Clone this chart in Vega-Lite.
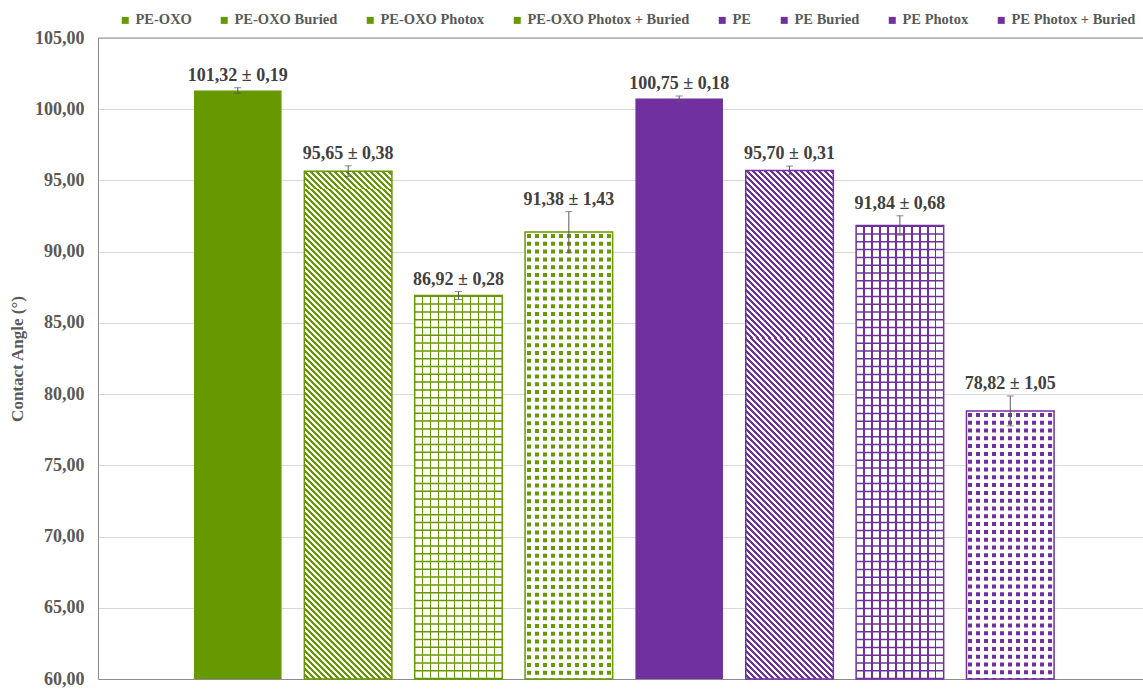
{
"$schema":"https://vega.github.io/schema/vega-lite/v6.json",
"width":1045,"height":641,
"autosize":{"type":"none"},
"padding":{"left":98,"top":38,"right":0,"bottom":10},
"background":"white",
"config":{"font":"Liberation Serif","view":{"stroke":null},
 "locale":{"number":{"decimal":",","thousands":".","grouping":[3],"currency":["","€"]}},
 "axisX":{"labels":false,"ticks":false,"grid":false,"domain":true,"domainColor":"#8c8c8c","zindex":1},
 "axisY":{"grid":true,"gridColor":"#d9d9d9","domain":true,"domainColor":"#8c8c8c","ticks":false,"tickCount":10,"format":".2f","labelExpr":"replace(format(datum.value, '.2f'), '.', ',')","labelPadding":14,"labelFont":"Liberation Serif","labelFontSize":18,"labelFontWeight":"bold","labelColor":"#595959","titleFont":"Liberation Serif","titleFontSize":17,"titleFontWeight":"bold","titleColor":"#595959","titlePadding":8}
},
"data":{"values":[
{"sample":"PE-OXO","material":"PE-OXO","treatment":"Control","mean":101.32,"sd":0.19,"low":101.13,"high":101.51,"label":"101,32 ± 0,19"},
{"sample":"PE-OXO Buried","material":"PE-OXO","treatment":"Buried","mean":95.65,"sd":0.38,"low":95.27,"high":96.03,"label":"95,65 ± 0,38"},
{"sample":"PE-OXO Photox","material":"PE-OXO","treatment":"Photox","mean":86.92,"sd":0.28,"low":86.64,"high":87.20,"label":"86,92 ± 0,28"},
{"sample":"PE-OXO Photox + Buried","material":"PE-OXO","treatment":"Photox + Buried","mean":91.38,"sd":1.43,"low":89.95,"high":92.81,"label":"91,38 ± 1,43"},
{"sample":"PE","material":"PE","treatment":"Control","mean":100.75,"sd":0.18,"low":100.57,"high":100.93,"label":"100,75 ± 0,18"},
{"sample":"PE Buried","material":"PE","treatment":"Buried","mean":95.70,"sd":0.31,"low":95.39,"high":96.01,"label":"95,70 ± 0,31"},
{"sample":"PE Photox","material":"PE","treatment":"Photox","mean":91.84,"sd":0.68,"low":91.16,"high":92.52,"label":"91,84 ± 0,68"},
{"sample":"PE Photox + Buried","material":"PE","treatment":"Photox + Buried","mean":78.82,"sd":1.05,"low":77.77,"high":79.87,"label":"78,82 ± 1,05"}
]},
"layer":[
{"mark":{"type":"bar"},
 "encoding":{
  "x":{"field":"sample","type":"nominal","sort":null,"title":null,"scale":{"domain":["PE-OXO","PE-OXO Buried","PE-OXO Photox","PE-OXO Photox + Buried","PE","PE Buried","PE Photox","PE Photox + Buried"],"paddingInner":0.2065,"paddingOuter":0.838,"align":0.519}},
  "y":{"field":"mean","type":"quantitative","title":"Contact Angle (°)","scale":{"domain":[60,105],"nice":false,"zero":false}},
  "y2":{"datum":60},
  "fill":{"condition":{"test":"indexof(datum.treatment, 'Photox') >= 0","value":"white"},"field":"sample","type":"nominal","scale":{"domain":["PE-OXO","PE-OXO Buried","PE-OXO Photox","PE-OXO Photox + Buried","PE","PE Buried","PE Photox","PE Photox + Buried"],"range":["#669900","#669900","#669900","#669900","#7030a0","#7030a0","#7030a0","#7030a0"]},
   "legend":{"orient":"none","legendX":20,"legendY":-25,"direction":"horizontal","title":null,"symbolType":"square","symbolSize":49,"symbolStrokeWidth":0,"labelFont":"Liberation Serif","labelFontSize":14.5,"labelFontWeight":"bold","labelColor":"#595959","labelLimit":400,"columnPadding":25,"labelOffset":3}}
 }},
{"transform":[{"filter":"datum.treatment == 'Buried'"}],
 "mark":{"type":"bar","fill":{"gradient":"linear","x1":-0.000494,"y1":1.002867,"x2":0.039023,"y2":0.773536,"stops":[
{"offset":0,"color":"#fff0"},
{"offset":0.0125,"color":"#fff0"},{"offset":0.0125,"color":"#fff"},{"offset":0.0375,"color":"#fff"},{"offset":0.0375,"color":"#fff0"},
{"offset":0.0625,"color":"#fff0"},{"offset":0.0625,"color":"#fff"},{"offset":0.0875,"color":"#fff"},{"offset":0.0875,"color":"#fff0"},
{"offset":0.1125,"color":"#fff0"},{"offset":0.1125,"color":"#fff"},{"offset":0.1375,"color":"#fff"},{"offset":0.1375,"color":"#fff0"},
{"offset":0.1625,"color":"#fff0"},{"offset":0.1625,"color":"#fff"},{"offset":0.1875,"color":"#fff"},{"offset":0.1875,"color":"#fff0"},
{"offset":0.2125,"color":"#fff0"},{"offset":0.2125,"color":"#fff"},{"offset":0.2375,"color":"#fff"},{"offset":0.2375,"color":"#fff0"},
{"offset":0.2625,"color":"#fff0"},{"offset":0.2625,"color":"#fff"},{"offset":0.2875,"color":"#fff"},{"offset":0.2875,"color":"#fff0"},
{"offset":0.3125,"color":"#fff0"},{"offset":0.3125,"color":"#fff"},{"offset":0.3375,"color":"#fff"},{"offset":0.3375,"color":"#fff0"},
{"offset":0.3625,"color":"#fff0"},{"offset":0.3625,"color":"#fff"},{"offset":0.3875,"color":"#fff"},{"offset":0.3875,"color":"#fff0"},
{"offset":0.4125,"color":"#fff0"},{"offset":0.4125,"color":"#fff"},{"offset":0.4375,"color":"#fff"},{"offset":0.4375,"color":"#fff0"},
{"offset":0.4625,"color":"#fff0"},{"offset":0.4625,"color":"#fff"},{"offset":0.4875,"color":"#fff"},{"offset":0.4875,"color":"#fff0"},
{"offset":0.5125,"color":"#fff0"},{"offset":0.5125,"color":"#fff"},{"offset":0.5375,"color":"#fff"},{"offset":0.5375,"color":"#fff0"},
{"offset":0.5625,"color":"#fff0"},{"offset":0.5625,"color":"#fff"},{"offset":0.5875,"color":"#fff"},{"offset":0.5875,"color":"#fff0"},
{"offset":0.6125,"color":"#fff0"},{"offset":0.6125,"color":"#fff"},{"offset":0.6375,"color":"#fff"},{"offset":0.6375,"color":"#fff0"},
{"offset":0.6625,"color":"#fff0"},{"offset":0.6625,"color":"#fff"},{"offset":0.6875,"color":"#fff"},{"offset":0.6875,"color":"#fff0"},
{"offset":0.7125,"color":"#fff0"},{"offset":0.7125,"color":"#fff"},{"offset":0.7375,"color":"#fff"},{"offset":0.7375,"color":"#fff0"},
{"offset":0.7625,"color":"#fff0"},{"offset":0.7625,"color":"#fff"},{"offset":0.7875,"color":"#fff"},{"offset":0.7875,"color":"#fff0"},
{"offset":0.8125,"color":"#fff0"},{"offset":0.8125,"color":"#fff"},{"offset":0.8375,"color":"#fff"},{"offset":0.8375,"color":"#fff0"},
{"offset":0.8625,"color":"#fff0"},{"offset":0.8625,"color":"#fff"},{"offset":0.8875,"color":"#fff"},{"offset":0.8875,"color":"#fff0"},
{"offset":0.9125,"color":"#fff0"},{"offset":0.9125,"color":"#fff"},{"offset":0.9375,"color":"#fff"},{"offset":0.9375,"color":"#fff0"},
{"offset":0.9625,"color":"#fff0"},{"offset":0.9625,"color":"#fff"},{"offset":0.9875,"color":"#fff"},{"offset":0.9875,"color":"#fff0"},
{"offset":1,"color":"#fff0"}
 ]}},
 "encoding":{
  "x":{"field":"sample","type":"nominal","sort":null,"title":null,"scale":{"domain":["PE-OXO","PE-OXO Buried","PE-OXO Photox","PE-OXO Photox + Buried","PE","PE Buried","PE Photox","PE Photox + Buried"],"paddingInner":0.2065,"paddingOuter":0.838,"align":0.519}},
  "y":{"field":"mean","type":"quantitative","title":"Contact Angle (°)","scale":{"domain":[60,105],"nice":false,"zero":false}},
  "y2":{"datum":60}
 }},
{"transform":[{"filter":"datum.treatment == 'Buried'"}],
 "mark":{"type":"bar","fill":{"gradient":"linear","x1":0.039023,"y1":0.773536,"x2":0.078540,"y2":0.544205,"stops":[
{"offset":0,"color":"#fff0"},
{"offset":0.0125,"color":"#fff0"},{"offset":0.0125,"color":"#fff"},{"offset":0.0375,"color":"#fff"},{"offset":0.0375,"color":"#fff0"},
{"offset":0.0625,"color":"#fff0"},{"offset":0.0625,"color":"#fff"},{"offset":0.0875,"color":"#fff"},{"offset":0.0875,"color":"#fff0"},
{"offset":0.1125,"color":"#fff0"},{"offset":0.1125,"color":"#fff"},{"offset":0.1375,"color":"#fff"},{"offset":0.1375,"color":"#fff0"},
{"offset":0.1625,"color":"#fff0"},{"offset":0.1625,"color":"#fff"},{"offset":0.1875,"color":"#fff"},{"offset":0.1875,"color":"#fff0"},
{"offset":0.2125,"color":"#fff0"},{"offset":0.2125,"color":"#fff"},{"offset":0.2375,"color":"#fff"},{"offset":0.2375,"color":"#fff0"},
{"offset":0.2625,"color":"#fff0"},{"offset":0.2625,"color":"#fff"},{"offset":0.2875,"color":"#fff"},{"offset":0.2875,"color":"#fff0"},
{"offset":0.3125,"color":"#fff0"},{"offset":0.3125,"color":"#fff"},{"offset":0.3375,"color":"#fff"},{"offset":0.3375,"color":"#fff0"},
{"offset":0.3625,"color":"#fff0"},{"offset":0.3625,"color":"#fff"},{"offset":0.3875,"color":"#fff"},{"offset":0.3875,"color":"#fff0"},
{"offset":0.4125,"color":"#fff0"},{"offset":0.4125,"color":"#fff"},{"offset":0.4375,"color":"#fff"},{"offset":0.4375,"color":"#fff0"},
{"offset":0.4625,"color":"#fff0"},{"offset":0.4625,"color":"#fff"},{"offset":0.4875,"color":"#fff"},{"offset":0.4875,"color":"#fff0"},
{"offset":0.5125,"color":"#fff0"},{"offset":0.5125,"color":"#fff"},{"offset":0.5375,"color":"#fff"},{"offset":0.5375,"color":"#fff0"},
{"offset":0.5625,"color":"#fff0"},{"offset":0.5625,"color":"#fff"},{"offset":0.5875,"color":"#fff"},{"offset":0.5875,"color":"#fff0"},
{"offset":0.6125,"color":"#fff0"},{"offset":0.6125,"color":"#fff"},{"offset":0.6375,"color":"#fff"},{"offset":0.6375,"color":"#fff0"},
{"offset":0.6625,"color":"#fff0"},{"offset":0.6625,"color":"#fff"},{"offset":0.6875,"color":"#fff"},{"offset":0.6875,"color":"#fff0"},
{"offset":0.7125,"color":"#fff0"},{"offset":0.7125,"color":"#fff"},{"offset":0.7375,"color":"#fff"},{"offset":0.7375,"color":"#fff0"},
{"offset":0.7625,"color":"#fff0"},{"offset":0.7625,"color":"#fff"},{"offset":0.7875,"color":"#fff"},{"offset":0.7875,"color":"#fff0"},
{"offset":0.8125,"color":"#fff0"},{"offset":0.8125,"color":"#fff"},{"offset":0.8375,"color":"#fff"},{"offset":0.8375,"color":"#fff0"},
{"offset":0.8625,"color":"#fff0"},{"offset":0.8625,"color":"#fff"},{"offset":0.8875,"color":"#fff"},{"offset":0.8875,"color":"#fff0"},
{"offset":0.9125,"color":"#fff0"},{"offset":0.9125,"color":"#fff"},{"offset":0.9375,"color":"#fff"},{"offset":0.9375,"color":"#fff0"},
{"offset":0.9625,"color":"#fff0"},{"offset":0.9625,"color":"#fff"},{"offset":0.9875,"color":"#fff"},{"offset":0.9875,"color":"#fff0"},
{"offset":1,"color":"#fff0"}
 ]}},
 "encoding":{
  "x":{"field":"sample","type":"nominal","sort":null,"title":null,"scale":{"domain":["PE-OXO","PE-OXO Buried","PE-OXO Photox","PE-OXO Photox + Buried","PE","PE Buried","PE Photox","PE Photox + Buried"],"paddingInner":0.2065,"paddingOuter":0.838,"align":0.519}},
  "y":{"field":"mean","type":"quantitative","title":"Contact Angle (°)","scale":{"domain":[60,105],"nice":false,"zero":false}},
  "y2":{"datum":60}
 }},
{"transform":[{"filter":"datum.treatment == 'Buried'"}],
 "mark":{"type":"bar","fill":{"gradient":"linear","x1":0.078540,"y1":0.544205,"x2":0.118058,"y2":0.314874,"stops":[
{"offset":0,"color":"#fff0"},
{"offset":0.0125,"color":"#fff0"},{"offset":0.0125,"color":"#fff"},{"offset":0.0375,"color":"#fff"},{"offset":0.0375,"color":"#fff0"},
{"offset":0.0625,"color":"#fff0"},{"offset":0.0625,"color":"#fff"},{"offset":0.0875,"color":"#fff"},{"offset":0.0875,"color":"#fff0"},
{"offset":0.1125,"color":"#fff0"},{"offset":0.1125,"color":"#fff"},{"offset":0.1375,"color":"#fff"},{"offset":0.1375,"color":"#fff0"},
{"offset":0.1625,"color":"#fff0"},{"offset":0.1625,"color":"#fff"},{"offset":0.1875,"color":"#fff"},{"offset":0.1875,"color":"#fff0"},
{"offset":0.2125,"color":"#fff0"},{"offset":0.2125,"color":"#fff"},{"offset":0.2375,"color":"#fff"},{"offset":0.2375,"color":"#fff0"},
{"offset":0.2625,"color":"#fff0"},{"offset":0.2625,"color":"#fff"},{"offset":0.2875,"color":"#fff"},{"offset":0.2875,"color":"#fff0"},
{"offset":0.3125,"color":"#fff0"},{"offset":0.3125,"color":"#fff"},{"offset":0.3375,"color":"#fff"},{"offset":0.3375,"color":"#fff0"},
{"offset":0.3625,"color":"#fff0"},{"offset":0.3625,"color":"#fff"},{"offset":0.3875,"color":"#fff"},{"offset":0.3875,"color":"#fff0"},
{"offset":0.4125,"color":"#fff0"},{"offset":0.4125,"color":"#fff"},{"offset":0.4375,"color":"#fff"},{"offset":0.4375,"color":"#fff0"},
{"offset":0.4625,"color":"#fff0"},{"offset":0.4625,"color":"#fff"},{"offset":0.4875,"color":"#fff"},{"offset":0.4875,"color":"#fff0"},
{"offset":0.5125,"color":"#fff0"},{"offset":0.5125,"color":"#fff"},{"offset":0.5375,"color":"#fff"},{"offset":0.5375,"color":"#fff0"},
{"offset":0.5625,"color":"#fff0"},{"offset":0.5625,"color":"#fff"},{"offset":0.5875,"color":"#fff"},{"offset":0.5875,"color":"#fff0"},
{"offset":0.6125,"color":"#fff0"},{"offset":0.6125,"color":"#fff"},{"offset":0.6375,"color":"#fff"},{"offset":0.6375,"color":"#fff0"},
{"offset":0.6625,"color":"#fff0"},{"offset":0.6625,"color":"#fff"},{"offset":0.6875,"color":"#fff"},{"offset":0.6875,"color":"#fff0"},
{"offset":0.7125,"color":"#fff0"},{"offset":0.7125,"color":"#fff"},{"offset":0.7375,"color":"#fff"},{"offset":0.7375,"color":"#fff0"},
{"offset":0.7625,"color":"#fff0"},{"offset":0.7625,"color":"#fff"},{"offset":0.7875,"color":"#fff"},{"offset":0.7875,"color":"#fff0"},
{"offset":0.8125,"color":"#fff0"},{"offset":0.8125,"color":"#fff"},{"offset":0.8375,"color":"#fff"},{"offset":0.8375,"color":"#fff0"},
{"offset":0.8625,"color":"#fff0"},{"offset":0.8625,"color":"#fff"},{"offset":0.8875,"color":"#fff"},{"offset":0.8875,"color":"#fff0"},
{"offset":0.9125,"color":"#fff0"},{"offset":0.9125,"color":"#fff"},{"offset":0.9375,"color":"#fff"},{"offset":0.9375,"color":"#fff0"},
{"offset":0.9625,"color":"#fff0"},{"offset":0.9625,"color":"#fff"},{"offset":0.9875,"color":"#fff"},{"offset":0.9875,"color":"#fff0"},
{"offset":1,"color":"#fff0"}
 ]}},
 "encoding":{
  "x":{"field":"sample","type":"nominal","sort":null,"title":null,"scale":{"domain":["PE-OXO","PE-OXO Buried","PE-OXO Photox","PE-OXO Photox + Buried","PE","PE Buried","PE Photox","PE Photox + Buried"],"paddingInner":0.2065,"paddingOuter":0.838,"align":0.519}},
  "y":{"field":"mean","type":"quantitative","title":"Contact Angle (°)","scale":{"domain":[60,105],"nice":false,"zero":false}},
  "y2":{"datum":60}
 }},
{"transform":[{"filter":"datum.treatment == 'Buried'"}],
 "mark":{"type":"bar","fill":{"gradient":"linear","x1":0.118058,"y1":0.314874,"x2":0.157575,"y2":0.085543,"stops":[
{"offset":0,"color":"#fff0"},
{"offset":0.0125,"color":"#fff0"},{"offset":0.0125,"color":"#fff"},{"offset":0.0375,"color":"#fff"},{"offset":0.0375,"color":"#fff0"},
{"offset":0.0625,"color":"#fff0"},{"offset":0.0625,"color":"#fff"},{"offset":0.0875,"color":"#fff"},{"offset":0.0875,"color":"#fff0"},
{"offset":0.1125,"color":"#fff0"},{"offset":0.1125,"color":"#fff"},{"offset":0.1375,"color":"#fff"},{"offset":0.1375,"color":"#fff0"},
{"offset":0.1625,"color":"#fff0"},{"offset":0.1625,"color":"#fff"},{"offset":0.1875,"color":"#fff"},{"offset":0.1875,"color":"#fff0"},
{"offset":0.2125,"color":"#fff0"},{"offset":0.2125,"color":"#fff"},{"offset":0.2375,"color":"#fff"},{"offset":0.2375,"color":"#fff0"},
{"offset":0.2625,"color":"#fff0"},{"offset":0.2625,"color":"#fff"},{"offset":0.2875,"color":"#fff"},{"offset":0.2875,"color":"#fff0"},
{"offset":0.3125,"color":"#fff0"},{"offset":0.3125,"color":"#fff"},{"offset":0.3375,"color":"#fff"},{"offset":0.3375,"color":"#fff0"},
{"offset":0.3625,"color":"#fff0"},{"offset":0.3625,"color":"#fff"},{"offset":0.3875,"color":"#fff"},{"offset":0.3875,"color":"#fff0"},
{"offset":0.4125,"color":"#fff0"},{"offset":0.4125,"color":"#fff"},{"offset":0.4375,"color":"#fff"},{"offset":0.4375,"color":"#fff0"},
{"offset":0.4625,"color":"#fff0"},{"offset":0.4625,"color":"#fff"},{"offset":0.4875,"color":"#fff"},{"offset":0.4875,"color":"#fff0"},
{"offset":0.5125,"color":"#fff0"},{"offset":0.5125,"color":"#fff"},{"offset":0.5375,"color":"#fff"},{"offset":0.5375,"color":"#fff0"},
{"offset":0.5625,"color":"#fff0"},{"offset":0.5625,"color":"#fff"},{"offset":0.5875,"color":"#fff"},{"offset":0.5875,"color":"#fff0"},
{"offset":0.6125,"color":"#fff0"},{"offset":0.6125,"color":"#fff"},{"offset":0.6375,"color":"#fff"},{"offset":0.6375,"color":"#fff0"},
{"offset":0.6625,"color":"#fff0"},{"offset":0.6625,"color":"#fff"},{"offset":0.6875,"color":"#fff"},{"offset":0.6875,"color":"#fff0"},
{"offset":0.7125,"color":"#fff0"},{"offset":0.7125,"color":"#fff"},{"offset":0.7375,"color":"#fff"},{"offset":0.7375,"color":"#fff0"},
{"offset":0.7625,"color":"#fff0"},{"offset":0.7625,"color":"#fff"},{"offset":0.7875,"color":"#fff"},{"offset":0.7875,"color":"#fff0"},
{"offset":0.8125,"color":"#fff0"},{"offset":0.8125,"color":"#fff"},{"offset":0.8375,"color":"#fff"},{"offset":0.8375,"color":"#fff0"},
{"offset":0.8625,"color":"#fff0"},{"offset":0.8625,"color":"#fff"},{"offset":0.8875,"color":"#fff"},{"offset":0.8875,"color":"#fff0"},
{"offset":0.9125,"color":"#fff0"},{"offset":0.9125,"color":"#fff"},{"offset":0.9375,"color":"#fff"},{"offset":0.9375,"color":"#fff0"},
{"offset":0.9625,"color":"#fff0"},{"offset":0.9625,"color":"#fff"},{"offset":0.9875,"color":"#fff"},{"offset":0.9875,"color":"#fff0"},
{"offset":1,"color":"#fff0"}
 ]}},
 "encoding":{
  "x":{"field":"sample","type":"nominal","sort":null,"title":null,"scale":{"domain":["PE-OXO","PE-OXO Buried","PE-OXO Photox","PE-OXO Photox + Buried","PE","PE Buried","PE Photox","PE Photox + Buried"],"paddingInner":0.2065,"paddingOuter":0.838,"align":0.519}},
  "y":{"field":"mean","type":"quantitative","title":"Contact Angle (°)","scale":{"domain":[60,105],"nice":false,"zero":false}},
  "y2":{"datum":60}
 }},
{"transform":[{"filter":"datum.treatment == 'Buried'"}],
 "mark":{"type":"bar","fill":{"gradient":"linear","x1":0.157575,"y1":0.085543,"x2":0.197092,"y2":-0.143787,"stops":[
{"offset":0,"color":"#fff0"},
{"offset":0.0125,"color":"#fff0"},{"offset":0.0125,"color":"#fff"},{"offset":0.0375,"color":"#fff"},{"offset":0.0375,"color":"#fff0"},
{"offset":0.0625,"color":"#fff0"},{"offset":0.0625,"color":"#fff"},{"offset":0.0875,"color":"#fff"},{"offset":0.0875,"color":"#fff0"},
{"offset":0.1125,"color":"#fff0"},{"offset":0.1125,"color":"#fff"},{"offset":0.1375,"color":"#fff"},{"offset":0.1375,"color":"#fff0"},
{"offset":0.1625,"color":"#fff0"},{"offset":0.1625,"color":"#fff"},{"offset":0.1875,"color":"#fff"},{"offset":0.1875,"color":"#fff0"},
{"offset":0.2125,"color":"#fff0"},{"offset":0.2125,"color":"#fff"},{"offset":0.2375,"color":"#fff"},{"offset":0.2375,"color":"#fff0"},
{"offset":0.2625,"color":"#fff0"},{"offset":0.2625,"color":"#fff"},{"offset":0.2875,"color":"#fff"},{"offset":0.2875,"color":"#fff0"},
{"offset":0.3125,"color":"#fff0"},{"offset":0.3125,"color":"#fff"},{"offset":0.3375,"color":"#fff"},{"offset":0.3375,"color":"#fff0"},
{"offset":0.3625,"color":"#fff0"},{"offset":0.3625,"color":"#fff"},{"offset":0.3875,"color":"#fff"},{"offset":0.3875,"color":"#fff0"},
{"offset":0.4125,"color":"#fff0"},{"offset":0.4125,"color":"#fff"},{"offset":0.4375,"color":"#fff"},{"offset":0.4375,"color":"#fff0"},
{"offset":0.4625,"color":"#fff0"},{"offset":0.4625,"color":"#fff"},{"offset":0.4875,"color":"#fff"},{"offset":0.4875,"color":"#fff0"},
{"offset":0.5125,"color":"#fff0"},{"offset":0.5125,"color":"#fff"},{"offset":0.5375,"color":"#fff"},{"offset":0.5375,"color":"#fff0"},
{"offset":0.5625,"color":"#fff0"},{"offset":0.5625,"color":"#fff"},{"offset":0.5875,"color":"#fff"},{"offset":0.5875,"color":"#fff0"},
{"offset":0.6125,"color":"#fff0"},{"offset":0.6125,"color":"#fff"},{"offset":0.6375,"color":"#fff"},{"offset":0.6375,"color":"#fff0"},
{"offset":0.6625,"color":"#fff0"},{"offset":0.6625,"color":"#fff"},{"offset":0.6875,"color":"#fff"},{"offset":0.6875,"color":"#fff0"},
{"offset":0.7125,"color":"#fff0"},{"offset":0.7125,"color":"#fff"},{"offset":0.7375,"color":"#fff"},{"offset":0.7375,"color":"#fff0"},
{"offset":0.7625,"color":"#fff0"},{"offset":0.7625,"color":"#fff"},{"offset":0.7875,"color":"#fff"},{"offset":0.7875,"color":"#fff0"},
{"offset":0.8125,"color":"#fff0"},{"offset":0.8125,"color":"#fff"},{"offset":0.8375,"color":"#fff"},{"offset":0.8375,"color":"#fff0"},
{"offset":0.8625,"color":"#fff0"},{"offset":0.8625,"color":"#fff"},{"offset":0.8875,"color":"#fff"},{"offset":0.8875,"color":"#fff0"},
{"offset":0.9125,"color":"#fff0"},{"offset":0.9125,"color":"#fff"},{"offset":0.9375,"color":"#fff"},{"offset":0.9375,"color":"#fff0"},
{"offset":0.9625,"color":"#fff0"},{"offset":0.9625,"color":"#fff"},{"offset":0.9875,"color":"#fff"},{"offset":0.9875,"color":"#fff0"},
{"offset":1,"color":"#fff0"}
 ]}},
 "encoding":{
  "x":{"field":"sample","type":"nominal","sort":null,"title":null,"scale":{"domain":["PE-OXO","PE-OXO Buried","PE-OXO Photox","PE-OXO Photox + Buried","PE","PE Buried","PE Photox","PE Photox + Buried"],"paddingInner":0.2065,"paddingOuter":0.838,"align":0.519}},
  "y":{"field":"mean","type":"quantitative","title":"Contact Angle (°)","scale":{"domain":[60,105],"nice":false,"zero":false}},
  "y2":{"datum":60}
 }},
{"transform":[{"filter":"datum.treatment == 'Photox'"}],
 "mark":{"type":"rule","strokeWidth":87.4,"strokeDash":[1.5,6.3],"strokeCap":"butt"},
 "encoding":{
  "x":{"field":"sample","type":"nominal","sort":null,"title":null,"scale":{"domain":["PE-OXO","PE-OXO Buried","PE-OXO Photox","PE-OXO Photox + Buried","PE","PE Buried","PE Photox","PE Photox + Buried"],"paddingInner":0.2065,"paddingOuter":0.838,"align":0.519}},
  "y":{"field":"mean","type":"quantitative","title":"Contact Angle (°)","scale":{"domain":[60,105],"nice":false,"zero":false}},
  "y2":{"datum":60},
  "stroke":{"field":"sample","type":"nominal","scale":{"domain":["PE-OXO","PE-OXO Buried","PE-OXO Photox","PE-OXO Photox + Buried","PE","PE Buried","PE Photox","PE Photox + Buried"],"range":["#669900","#669900","#669900","#669900","#7030a0","#7030a0","#7030a0","#7030a0"]},"legend":null}
 }},
{"transform":[{"filter":"datum.treatment == 'Photox + Buried'"}],
 "mark":{"type":"rule","strokeWidth":87.4,"strokeDash":[4,3.8],"strokeDashOffset":5.8,"strokeCap":"butt"},
 "encoding":{
  "x":{"field":"sample","type":"nominal","sort":null,"title":null,"scale":{"domain":["PE-OXO","PE-OXO Buried","PE-OXO Photox","PE-OXO Photox + Buried","PE","PE Buried","PE Photox","PE Photox + Buried"],"paddingInner":0.2065,"paddingOuter":0.838,"align":0.519}},
  "y":{"field":"mean","type":"quantitative","title":"Contact Angle (°)","scale":{"domain":[60,105],"nice":false,"zero":false}},
  "y2":{"datum":60},
  "stroke":{"field":"sample","type":"nominal","scale":{"domain":["PE-OXO","PE-OXO Buried","PE-OXO Photox","PE-OXO Photox + Buried","PE","PE Buried","PE Photox","PE Photox + Buried"],"range":["#669900","#669900","#669900","#669900","#7030a0","#7030a0","#7030a0","#7030a0"]},"legend":null}
 }},
{"transform":[{"filter":"datum.sample == 'PE-OXO Photox'"}],
 "mark":{"type":"bar","fill":{"gradient":"linear","x1":0,"y1":0,"x2":1,"y2":0,"stops":[
{"offset":0,"color":"#fff0"},
{"offset":0.0823,"color":"#fff0"},{"offset":0.0823,"color":"#669900"},{"offset":0.0995,"color":"#669900"},{"offset":0.0995,"color":"#fff0"},
{"offset":0.1732,"color":"#fff0"},{"offset":0.1732,"color":"#669900"},{"offset":0.1904,"color":"#669900"},{"offset":0.1904,"color":"#fff0"},
{"offset":0.2641,"color":"#fff0"},{"offset":0.2641,"color":"#669900"},{"offset":0.2813,"color":"#669900"},{"offset":0.2813,"color":"#fff0"},
{"offset":0.3550,"color":"#fff0"},{"offset":0.3550,"color":"#669900"},{"offset":0.3722,"color":"#669900"},{"offset":0.3722,"color":"#fff0"},
{"offset":0.4459,"color":"#fff0"},{"offset":0.4459,"color":"#669900"},{"offset":0.4631,"color":"#669900"},{"offset":0.4631,"color":"#fff0"},
{"offset":0.5369,"color":"#fff0"},{"offset":0.5369,"color":"#669900"},{"offset":0.5541,"color":"#669900"},{"offset":0.5541,"color":"#fff0"},
{"offset":0.6278,"color":"#fff0"},{"offset":0.6278,"color":"#669900"},{"offset":0.6450,"color":"#669900"},{"offset":0.6450,"color":"#fff0"},
{"offset":0.7187,"color":"#fff0"},{"offset":0.7187,"color":"#669900"},{"offset":0.7359,"color":"#669900"},{"offset":0.7359,"color":"#fff0"},
{"offset":0.8096,"color":"#fff0"},{"offset":0.8096,"color":"#669900"},{"offset":0.8268,"color":"#669900"},{"offset":0.8268,"color":"#fff0"},
{"offset":0.9005,"color":"#fff0"},{"offset":0.9005,"color":"#669900"},{"offset":0.9177,"color":"#669900"},{"offset":0.9177,"color":"#fff0"},
{"offset":1,"color":"#fff0"}
 ]}},
 "encoding":{
  "x":{"field":"sample","type":"nominal","sort":null,"title":null,"scale":{"domain":["PE-OXO","PE-OXO Buried","PE-OXO Photox","PE-OXO Photox + Buried","PE","PE Buried","PE Photox","PE Photox + Buried"],"paddingInner":0.2065,"paddingOuter":0.838,"align":0.519}},
  "y":{"field":"mean","type":"quantitative","title":"Contact Angle (°)","scale":{"domain":[60,105],"nice":false,"zero":false}},
  "y2":{"datum":60}
 }},
{"transform":[{"filter":"datum.sample == 'PE Photox'"}],
 "mark":{"type":"bar","fill":{"gradient":"linear","x1":0,"y1":0,"x2":1,"y2":0,"stops":[
{"offset":0,"color":"#fff0"},
{"offset":0.0823,"color":"#fff0"},{"offset":0.0823,"color":"#7030a0"},{"offset":0.0995,"color":"#7030a0"},{"offset":0.0995,"color":"#fff0"},
{"offset":0.1732,"color":"#fff0"},{"offset":0.1732,"color":"#7030a0"},{"offset":0.1904,"color":"#7030a0"},{"offset":0.1904,"color":"#fff0"},
{"offset":0.2641,"color":"#fff0"},{"offset":0.2641,"color":"#7030a0"},{"offset":0.2813,"color":"#7030a0"},{"offset":0.2813,"color":"#fff0"},
{"offset":0.3550,"color":"#fff0"},{"offset":0.3550,"color":"#7030a0"},{"offset":0.3722,"color":"#7030a0"},{"offset":0.3722,"color":"#fff0"},
{"offset":0.4459,"color":"#fff0"},{"offset":0.4459,"color":"#7030a0"},{"offset":0.4631,"color":"#7030a0"},{"offset":0.4631,"color":"#fff0"},
{"offset":0.5369,"color":"#fff0"},{"offset":0.5369,"color":"#7030a0"},{"offset":0.5541,"color":"#7030a0"},{"offset":0.5541,"color":"#fff0"},
{"offset":0.6278,"color":"#fff0"},{"offset":0.6278,"color":"#7030a0"},{"offset":0.6450,"color":"#7030a0"},{"offset":0.6450,"color":"#fff0"},
{"offset":0.7187,"color":"#fff0"},{"offset":0.7187,"color":"#7030a0"},{"offset":0.7359,"color":"#7030a0"},{"offset":0.7359,"color":"#fff0"},
{"offset":0.8096,"color":"#fff0"},{"offset":0.8096,"color":"#7030a0"},{"offset":0.8268,"color":"#7030a0"},{"offset":0.8268,"color":"#fff0"},
{"offset":0.9005,"color":"#fff0"},{"offset":0.9005,"color":"#7030a0"},{"offset":0.9177,"color":"#7030a0"},{"offset":0.9177,"color":"#fff0"},
{"offset":1,"color":"#fff0"}
 ]}},
 "encoding":{
  "x":{"field":"sample","type":"nominal","sort":null,"title":null,"scale":{"domain":["PE-OXO","PE-OXO Buried","PE-OXO Photox","PE-OXO Photox + Buried","PE","PE Buried","PE Photox","PE Photox + Buried"],"paddingInner":0.2065,"paddingOuter":0.838,"align":0.519}},
  "y":{"field":"mean","type":"quantitative","title":"Contact Angle (°)","scale":{"domain":[60,105],"nice":false,"zero":false}},
  "y2":{"datum":60}
 }},
{"transform":[{"filter":"datum.treatment == 'Photox + Buried'"}],
 "mark":{"type":"bar","fill":{"gradient":"linear","x1":0,"y1":0,"x2":1,"y2":0,"stops":[
{"offset":0,"color":"#fff"},{"offset":0.0227,"color":"#fff"},{"offset":0.0227,"color":"#fff0"},{"offset":0.0683,"color":"#fff0"},
{"offset":0.0683,"color":"#fff"},{"offset":0.1136,"color":"#fff"},{"offset":0.1136,"color":"#fff0"},{"offset":0.1592,"color":"#fff0"},
{"offset":0.1592,"color":"#fff"},{"offset":0.2045,"color":"#fff"},{"offset":0.2045,"color":"#fff0"},{"offset":0.2501,"color":"#fff0"},
{"offset":0.2501,"color":"#fff"},{"offset":0.2954,"color":"#fff"},{"offset":0.2954,"color":"#fff0"},{"offset":0.3410,"color":"#fff0"},
{"offset":0.3410,"color":"#fff"},{"offset":0.3863,"color":"#fff"},{"offset":0.3863,"color":"#fff0"},{"offset":0.4319,"color":"#fff0"},
{"offset":0.4319,"color":"#fff"},{"offset":0.4772,"color":"#fff"},{"offset":0.4772,"color":"#fff0"},{"offset":0.5228,"color":"#fff0"},
{"offset":0.5228,"color":"#fff"},{"offset":0.5681,"color":"#fff"},{"offset":0.5681,"color":"#fff0"},{"offset":0.6137,"color":"#fff0"},
{"offset":0.6137,"color":"#fff"},{"offset":0.6590,"color":"#fff"},{"offset":0.6590,"color":"#fff0"},{"offset":0.7046,"color":"#fff0"},
{"offset":0.7046,"color":"#fff"},{"offset":0.7499,"color":"#fff"},{"offset":0.7499,"color":"#fff0"},{"offset":0.7955,"color":"#fff0"},
{"offset":0.7955,"color":"#fff"},{"offset":0.8408,"color":"#fff"},{"offset":0.8408,"color":"#fff0"},{"offset":0.8864,"color":"#fff0"},
{"offset":0.8864,"color":"#fff"},{"offset":0.9317,"color":"#fff"},{"offset":0.9317,"color":"#fff0"},{"offset":0.9773,"color":"#fff0"},
{"offset":0.9773,"color":"#fff"},{"offset":1,"color":"#fff"}
 ]}},
 "encoding":{
  "x":{"field":"sample","type":"nominal","sort":null,"title":null,"scale":{"domain":["PE-OXO","PE-OXO Buried","PE-OXO Photox","PE-OXO Photox + Buried","PE","PE Buried","PE Photox","PE Photox + Buried"],"paddingInner":0.2065,"paddingOuter":0.838,"align":0.519}},
  "y":{"field":"mean","type":"quantitative","title":"Contact Angle (°)","scale":{"domain":[60,105],"nice":false,"zero":false}},
  "y2":{"datum":60}
 }},
{"transform":[{"filter":"datum.treatment != 'Control'"}],
 "mark":{"type":"bar","fill":"transparent","strokeWidth":1.5},
 "encoding":{
  "x":{"field":"sample","type":"nominal","sort":null,"title":null,"scale":{"domain":["PE-OXO","PE-OXO Buried","PE-OXO Photox","PE-OXO Photox + Buried","PE","PE Buried","PE Photox","PE Photox + Buried"],"paddingInner":0.2065,"paddingOuter":0.838,"align":0.519}},
  "y":{"field":"mean","type":"quantitative","title":"Contact Angle (°)","scale":{"domain":[60,105],"nice":false,"zero":false}},
  "y2":{"datum":60},
  "stroke":{"field":"sample","type":"nominal","scale":{"domain":["PE-OXO","PE-OXO Buried","PE-OXO Photox","PE-OXO Photox + Buried","PE","PE Buried","PE Photox","PE Photox + Buried"],"range":["#669900","#669900","#669900","#669900","#7030a0","#7030a0","#7030a0","#7030a0"]},"legend":null}
 }},
{"mark":{"type":"rule","color":"#595959","strokeWidth":1},
 "encoding":{
  "x":{"field":"sample","type":"nominal","sort":null,"title":null,"scale":{"domain":["PE-OXO","PE-OXO Buried","PE-OXO Photox","PE-OXO Photox + Buried","PE","PE Buried","PE Photox","PE Photox + Buried"],"paddingInner":0.2065,"paddingOuter":0.838,"align":0.519}},
  "y":{"field":"low","type":"quantitative","title":"Contact Angle (°)","scale":{"domain":[60,105],"nice":false,"zero":false}},
  "y2":{"field":"high"}
 }},
{"mark":{"type":"tick","color":"#595959","size":7,"thickness":1},
 "encoding":{
  "x":{"field":"sample","type":"nominal","sort":null,"title":null,"scale":{"domain":["PE-OXO","PE-OXO Buried","PE-OXO Photox","PE-OXO Photox + Buried","PE","PE Buried","PE Photox","PE Photox + Buried"],"paddingInner":0.2065,"paddingOuter":0.838,"align":0.519}},
  "y":{"field":"low","type":"quantitative","title":"Contact Angle (°)","scale":{"domain":[60,105],"nice":false,"zero":false}}
 }},
{"mark":{"type":"tick","color":"#595959","size":7,"thickness":1},
 "encoding":{
  "x":{"field":"sample","type":"nominal","sort":null,"title":null,"scale":{"domain":["PE-OXO","PE-OXO Buried","PE-OXO Photox","PE-OXO Photox + Buried","PE","PE Buried","PE Photox","PE Photox + Buried"],"paddingInner":0.2065,"paddingOuter":0.838,"align":0.519}},
  "y":{"field":"high","type":"quantitative","title":"Contact Angle (°)","scale":{"domain":[60,105],"nice":false,"zero":false}}
 }},
{"mark":{"type":"text","dy":-7,"baseline":"alphabetic","align":"center","font":"Liberation Serif","fontSize":18,"fontWeight":"bold","color":"#404040"},
 "encoding":{
  "x":{"field":"sample","type":"nominal","sort":null,"title":null,"scale":{"domain":["PE-OXO","PE-OXO Buried","PE-OXO Photox","PE-OXO Photox + Buried","PE","PE Buried","PE Photox","PE Photox + Buried"],"paddingInner":0.2065,"paddingOuter":0.838,"align":0.519}},
  "y":{"field":"high","type":"quantitative","title":"Contact Angle (°)","scale":{"domain":[60,105],"nice":false,"zero":false}},
  "text":{"field":"label"}
 }},
{"data":{"values":[{"top":105}]},
 "mark":{"type":"rule","color":"#8c8c8c","strokeWidth":1},
 "encoding":{
  "y":{"field":"top","type":"quantitative","title":"Contact Angle (°)","scale":{"domain":[60,105],"nice":false,"zero":false}}
 }}
]
}
